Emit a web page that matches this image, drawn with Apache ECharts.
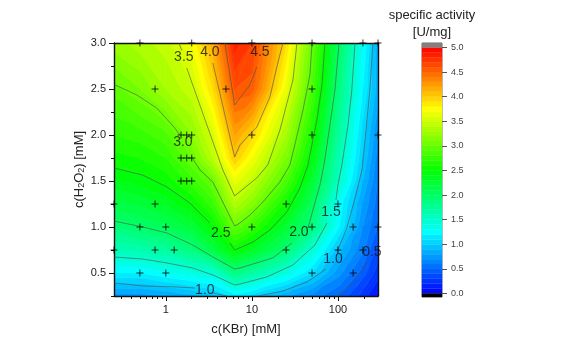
<!DOCTYPE html>
<html><head><meta charset="utf-8">
<style>html,body{margin:0;padding:0;background:#fff}#c{width:561px;height:360px}</style>
<script src="https://cdn.jsdelivr.net/npm/echarts@6/dist/echarts.min.js"></script>
</head><body><div id="c"></div>
<script>
// c(KBr) nodes, c(H2O2) nodes, activity at each node (bottom row first)
const xNodes = [0.25,0.5,1,2,3.5,6.3,10,25,50,100,195,292];
const yNodes = [0.25,0.5,0.75,1,1.25,1.5,1.75,2,2.5,3];
const field = [
 [0.75,0.75,0.8,0.87,0.95,1.16,1.05,0.82,0.66,0.5,0.25,0.08],
 [1.19,1.2,1.29,1.38,1.44,1.87,1.72,1.39,1.1,0.75,0.45,0.25],
 [1.6,1.64,1.72,1.89,2.16,2.5,2.32,1.95,1.45,0.95,0.62,0.35],
 [1.9,2,2.07,2.22,2.48,2.98,2.77,2.25,1.9,1.23,0.7,0.5],
 [2.16,2.22,2.33,2.5,2.75,3.37,3.15,2.55,2.05,1.3,0.78,0.55],
 [2.38,2.45,2.53,2.75,3,3.65,3.45,2.85,2.25,1.55,0.9,0.6],
 [2.56,2.6,2.7,3,3.4,4,3.7,3.1,2.45,1.65,1,0.65],
 [2.7,2.75,2.87,3.18,3.55,4.2,3.95,3.3,2.6,1.75,1.05,0.7],
 [2.95,3.1,3.3,3.47,3.9,4.6,4.55,3.65,2.85,1.9,1.2,0.85],
 [3.25,3.35,3.45,3.7,4.15,4.85,4.7,3.9,3,2.05,1.3,0.85]
];
// measured points
const points = [
 [0.5,3],[2,3],[10,3],[50,3],[195,3],[292,3],
 [0.75,2.5],[5,2.5],[50,2.5],
 [1.5,2],[1.75,2],[2,2],[10,2],[50,2],[292,2],
 [1.5,1.75],[1.75,1.75],[2,1.75],
 [1.5,1.5],[1.75,1.5],[2,1.5],
 [0.25,1.25],[0.75,1.25],[25,1.25],[100,1.25],
 [0.5,1],[1,1],[10,1],[50,1],[150,1],[292,1],
 [0.25,0.75],[0.75,0.75],[1.25,0.75],[25,0.75],[100,0.75],[195,0.75],
 [0.5,0.5],[1,0.5],[50,0.5],[150,0.5]
];
// contour lines; null = gap for a label
const c45 = [[4.85,3],[6.3,2.326],[7.25,2.402],[9.48,2.543],[11.4,2.739]];
const c40 = [[3.52,2.783],[6.3,1.761],[7.25,1.891],[11.4,2.087],[16.2,2.413],[20,2.783],[23,3]];
const c35 = [[1.42,3],[1.53,2.92],null,[1.75,2.728],[4.6,1.62],[6.3,1.337],[11.4,1.533],[15.3,1.674],[21.2,2.054],[30,2.598],[33.4,3]];
const c30 = [[0.25,2.55],[0.46,2.435],[0.785,2.293],[1.27,2.076],[1.45,2],null,[2,1.761],[2.49,1.62],[3.52,1.489],[6.3,1.011],[7.25,1.043],[9.48,1.13],[13.4,1.272],[21.2,1.489],[27.7,1.674],[32.5,1.946],[39.2,2.272],[47.2,2.652],[50,3]];
const c25 = [[0.25,1.641],[0.54,1.565],[1.03,1.435],[1.9,1.261],[3.25,1.043],null,[5.55,0.826],[6.3,0.75],[10.3,0.837],[16.2,0.967],[25.5,1.163],[36.1,1.424],[44.8,1.674],[57,2.163],[65.2,2.543],[70.6,3]];
const c20 = [[0.25,1.065],[0.54,1],[1.03,0.935],[2.06,0.804],[3.52,0.674],[6.3,0.543],[7.25,0.554],[10.3,0.598],[17.5,0.663],[29.2,0.826],null,[44.8,0.989],[61.8,1.457],[68.8,1.674],[80.7,2.109],[92.3,2.489],[103,3]];
const c15 = [[0.25,0.674],[0.54,0.652],[1.03,0.609],[2.06,0.554],[3.52,0.478],[6.3,0.37],[7.25,0.38],[14.9,0.457],[30,0.587],[54,0.804],[74.5,1.043],null,[94.8,1.293],[100,1.457],[111,1.674],[131,2.109],[145,2.489],[158,3]];
const c10 = [[0.25,0.391],[0.54,0.359],[1.34,0.348],[2.17,0.337],null,[3.52,0.283],[5.12,0.25],null,[11.7,0.25],[23,0.304],[43.6,0.402],[72.5,0.543],null,[97.3,0.728],[127,0.989],[158,1.315],[190,1.62],[212,2.054],[235,2.489],[255,3]];
const c05 = [[97.3,0.25],[158,0.424],[223,0.62]];
const contours = [c05,c10,c15,c20,c25,c30,c35,c40,c45];
const contourLabels = [
 [1.62,2.85,'3.5'],[3.25,2.9,'4.0'],[12.4,2.9,'4.5'],[1.58,1.924,'3.0'],[4.36,0.935,'2.5'],
 [35.2,0.946,'2.0'],[83,1.163,'1.5'],[87.5,0.652,'1.0'],[248,0.728,'0.5'],[2.84,0.315,'1.0']
];
const xMajor = [1,10,100];
const xMinor = [0.3,0.4,0.5,0.6,0.7,0.8,0.9,2,3,4,5,6,7,8,9,20,30,40,50,60,70,80,90,200];
const yMajor = [0.5,1,1.5,2,2.5,3];
const yMinor = [0.25,0.75,1.25,1.75,2.25,2.75];
const barTicks = [0,0.5,1,1.5,2,2.5,3,3.5,4,4.5,5];
const stops = [[0,[0,0,255]],[1.25,[0,255,255]],[2.5,[0,255,0]],[3.75,[255,255,0]],[5,[255,0,0]]];
const bandStep = 0.1, bandCount = 50;
const font = '"Liberation Sans",Arial,sans-serif';

function colorOf(v){
  for(let i=1;i<stops.length;i++){
    if(v<=stops[i][0]){
      const a=stops[i-1],b=stops[i],t=(v-a[0])/(b[0]-a[0]);
      return 'rgb('+a[1].map((c,k)=>Math.round(c+(b[1][k]-c)*t)).join(',')+')';
    }
  }
  return 'rgb(255,0,0)';
}
// clip a triangle [[lx,y,v]...] to lo<=v<=hi
function clipBand(tri,lo,hi){
  const clip=(poly,test,lev)=>{
    const out=[];
    for(let i=0;i<poly.length;i++){
      const p=poly[i],q=poly[(i+1)%poly.length];
      const ip=test(p[2]),iq=test(q[2]);
      if(ip)out.push(p);
      if(ip!==iq){const t=(lev-p[2])/(q[2]-p[2]);out.push([p[0]+(q[0]-p[0])*t,p[1]+(q[1]-p[1])*t,lev]);}
    }
    return out;
  };
  let r=clip(tri,v=>v>=lo,lo);
  if(r.length)r=clip(r,v=>v<=hi,hi);
  return r;
}
const quads=[];
for(let j=0;j<yNodes.length-1;j++)for(let i=0;i<xNodes.length-1;i++)quads.push([xNodes[i],yNodes[j],i,j]);

function renderQuad(params,api){
  const q=quads[params.dataIndex],i=q[2],j=q[3];
  const n=(a,b)=>[Math.log10(xNodes[a]),yNodes[b],field[b][a]];
  const bl=n(i,j),br=n(i+1,j),tl=n(i,j+1),tr=n(i+1,j+1);
  const tris=Math.abs(bl[2]-tr[2])<=Math.abs(br[2]-tl[2])?[[bl,br,tr],[bl,tr,tl]]:[[bl,br,tl],[br,tr,tl]];
  const children=[];
  tris.forEach(t=>{
    for(let k=0;k<bandCount;k++){
      const lo=k*bandStep,hi=(k+1)*bandStep;
      const poly=clipBand(t,lo,hi);
      if(poly.length<3)continue;
      const col=colorOf((lo+hi)/2);
      children.push({type:'polygon',shape:{points:poly.map(p=>api.coord([Math.pow(10,p[0]),p[1]]))},
        style:{fill:col,stroke:col,lineWidth:0.7}});
    }
  });
  return {type:'group',children};
}
const barBands=[];
for(let k=0;k<bandCount;k++)barBands.push([0,k*bandStep,(k+1)*bandStep]);
barBands.push([0,-0.07,0,'#000000']);
barBands.push([0,5,5.09,'#808080']);

const lineSeries=contours.map(c=>({
  type:'line',xAxisIndex:0,yAxisIndex:0,showSymbol:false,symbol:'none',silent:true,connectNulls:false,clip:true,z:4,
  lineStyle:{color:'#4a5a4a',width:0.8,opacity:0.8},
  data:c.map(p=>p===null?['-','-']:p)
}));

const option={
  animation:false,
  backgroundColor:'#fff',
  title:{text:'specific activity\n[U/mg]',left:427,top:2,textAlign:'center',
    textStyle:{fontFamily:font,fontSize:13,fontWeight:'normal',color:'#222',lineHeight:17}},
  grid:[
    {left:114,right:183,top:43,bottom:64,containLabel:false},
    {left:422,width:20,top:43,height:254,show:true,borderColor:'#777',borderWidth:1,backgroundColor:'transparent'}
  ],
  xAxis:[
    {type:'log',logBase:10,gridIndex:0,min:0.25,max:292,position:'bottom',z:3,
     name:'c(KBr) [mM]',nameLocation:'middle',nameGap:27,nameTextStyle:{fontFamily:font,fontSize:13,color:'#222'},
     axisLine:{show:true,onZero:false,lineStyle:{color:'#111',width:1.4}},
     axisTick:{show:true,length:5,customValues:xMajor,lineStyle:{color:'#111'}},
     axisLabel:{show:true,customValues:xMajor,fontFamily:font,fontSize:11,color:'#222',margin:8,formatter:v=>String(v)},
     splitLine:{show:false},minorTick:{show:false}},
    {type:'log',logBase:10,gridIndex:0,min:0.25,max:292,position:'bottom',z:3,
     axisLine:{show:false,onZero:false},
     axisTick:{show:true,length:3,customValues:xMinor,lineStyle:{color:'#111'}},
     axisLabel:{show:false},splitLine:{show:false}},
    {type:'log',logBase:10,gridIndex:0,min:0.25,max:292,position:'top',z:3,
     axisLine:{show:true,onZero:false,lineStyle:{color:'#111',width:1.4}},
     axisTick:{show:false},axisLabel:{show:false},splitLine:{show:false}},
    {type:'value',gridIndex:1,min:0,max:1,show:false}
  ],
  yAxis:[
    {type:'value',gridIndex:0,min:0.25,max:3,position:'left',z:3,
     name:'{a|c(H}{s|2}{a|O}{s|2}{a|) [mM]}',nameLocation:'middle',nameGap:28,nameRotate:90,
     nameTextStyle:{rich:{a:{fontFamily:font,fontSize:13,color:'#222'},s:{fontFamily:font,fontSize:9,color:'#222',verticalAlign:'bottom',padding:[5,0,0,0]}}},
     axisLine:{show:true,onZero:false,lineStyle:{color:'#111',width:1.4}},
     axisTick:{show:true,length:5,customValues:yMajor,lineStyle:{color:'#111'}},
     axisLabel:{show:true,customValues:yMajor,fontFamily:font,fontSize:11,color:'#222',margin:8,formatter:v=>v.toFixed(1)},
     splitLine:{show:false}},
    {type:'value',gridIndex:0,min:0.25,max:3,position:'left',z:3,
     axisLine:{show:false,onZero:false},
     axisTick:{show:true,length:3,customValues:yMinor,lineStyle:{color:'#111'}},
     axisLabel:{show:false},splitLine:{show:false}},
    {type:'value',gridIndex:0,min:0.25,max:3,position:'right',z:3,
     axisLine:{show:true,onZero:false,lineStyle:{color:'#111',width:1.4}},
     axisTick:{show:false},axisLabel:{show:false},splitLine:{show:false}},
    {type:'value',gridIndex:1,min:-0.07,max:5.09,position:'right',z:3,
     axisLine:{show:false,onZero:false},
     axisTick:{show:true,length:5,customValues:barTicks,lineStyle:{color:'#555'}},
     axisLabel:{show:true,customValues:barTicks,fontFamily:font,fontSize:9,color:'#444',margin:9,formatter:v=>v.toFixed(1)},
     splitLine:{show:false}}
  ],
  series:[
    {type:'custom',xAxisIndex:0,yAxisIndex:0,clip:true,silent:true,z:2,
     encode:{x:0,y:1},data:quads,renderItem:renderQuad},
    ...lineSeries,
    {type:'scatter',xAxisIndex:0,yAxisIndex:0,clip:false,silent:true,z:6,
     symbol:'path://M5 0V10M0 5H10',symbolSize:7,
     itemStyle:{color:'none',borderColor:'#000',borderWidth:1},data:points},
    {type:'scatter',xAxisIndex:0,yAxisIndex:0,clip:false,silent:true,z:7,symbolSize:0,
     data:contourLabels,
     label:{show:true,position:'inside',formatter:p=>p.data[2],fontFamily:font,fontSize:14,color:'#111'}},
    {type:'custom',xAxisIndex:3,yAxisIndex:3,silent:true,z:2,encode:{x:0,y:[1,2]},data:barBands,
     renderItem:(params,api)=>{
       const b=barBands[params.dataIndex];
       const p0=api.coord([0,b[1]]),p1=api.coord([1,b[2]]);
       const col=b[3]||colorOf((b[1]+b[2])/2);
       return {type:'rect',shape:{x:p0[0],y:p1[1],width:p1[0]-p0[0],height:p0[1]-p1[1]},
         style:{fill:col,stroke:col,lineWidth:0.3}};
     }}
  ]
};
const chart=echarts.init(document.getElementById('c'),null,{renderer:'canvas'});
chart.setOption(option);
</script></body></html>
